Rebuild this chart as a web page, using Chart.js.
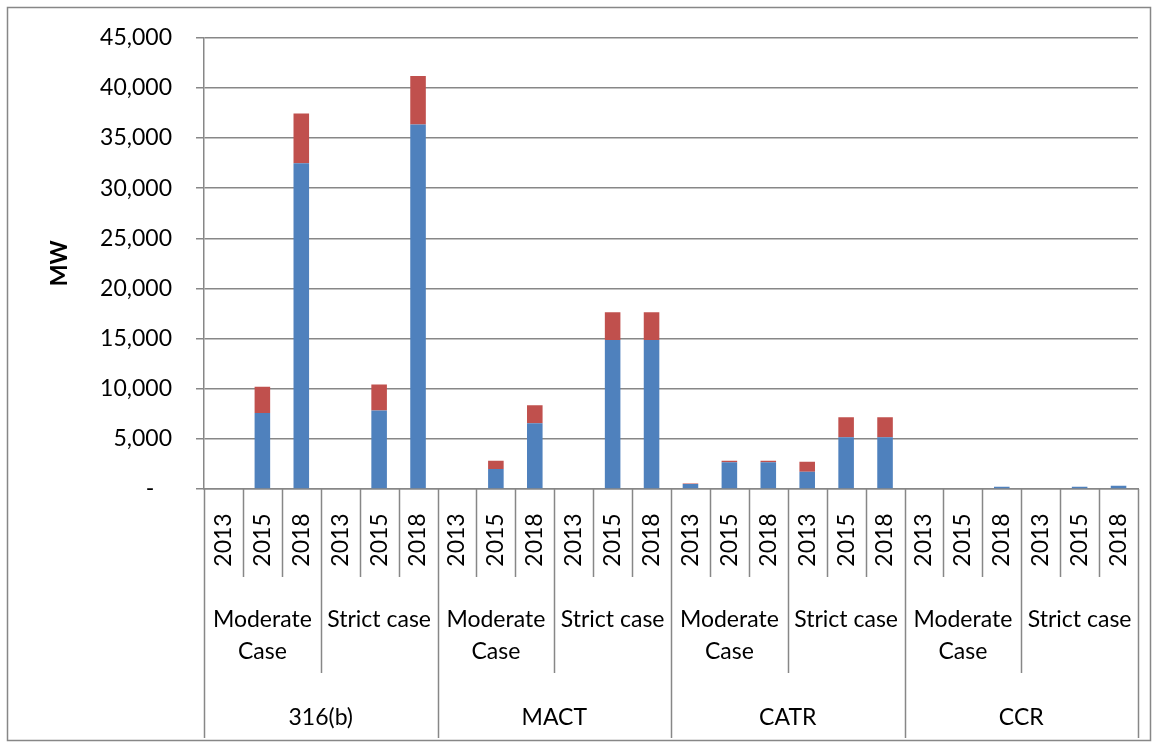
<!DOCTYPE html>
<html>
<head>
<meta charset="utf-8">
<script src="https://cdn.jsdelivr.net/npm/chart.js@4.4.1/dist/chart.umd.min.js"></script>
<style>
  html, body { margin: 0; padding: 0; background: #ffffff; }
  #wrap { width: 1158px; height: 748px; position: relative; }
</style>
</head>
<body>
<div id="wrap"><canvas id="chart" width="1158" height="748"></canvas></div>
<script>
// Category hierarchy: rule group → case → year
const groups = ['316(b)', 'MACT', 'CATR', 'CCR'];
const cases = [['Moderate', 'Case'], ['Strict case']];
const years = ['2013', '2015', '2018'];

// Capacity in MW, one value per (group, case, year), in that order
const seriesLower = [
  0, 7580, 32490,   0, 7830, 36350,
  0, 2000, 6560,    0, 14870, 14870,
  500, 2660, 2660,  1730, 5150, 5150,
  0, 80, 230,       0, 230, 330
];
const seriesUpper = [
  0, 2620, 4970,    0, 2600, 4840,
  0, 810, 1790,     0, 2750, 2750,
  60, 160, 160,     990, 2000, 2000,
  0, 0, 0,          0, 0, 0
];

const yTicksMax = 45000;
const yTicksStep = 5000;

const labels = [];
groups.forEach(() => cases.forEach(() => years.forEach(y => labels.push(y))));

const FONT = 'Lato, "Open Sans", sans-serif';
const AXIS_GRAY = '#878787';

// Draws the three-level category axis (years / cases / groups) with separators
const multiLevelAxis = {
  id: 'multiLevelAxis',
  afterDraw(chart) {
    const { ctx, chartArea, scales } = chart;
    const x = scales.x;
    const n = labels.length;
    const half = (x.getPixelForValue(1) - x.getPixelForValue(0)) / 2;
    const edge = i => (i < n ? x.getPixelForValue(i) - half : x.getPixelForValue(n - 1) + half);
    const base = chartArea.bottom;
    const yearBottom = base + 88;
    const caseBottom = base + 184;
    const groupBottom = base + 249;

    ctx.save();
    ctx.strokeStyle = AXIS_GRAY;
    ctx.lineWidth = 1.5;
    for (let i = 0; i <= n; i++) {
      let bottom = yearBottom;
      if (i % years.length === 0) bottom = caseBottom;
      if (i % (years.length * cases.length) === 0) bottom = groupBottom;
      const px = Math.round(edge(i)) + 0.5;
      ctx.beginPath();
      ctx.moveTo(px, base);
      ctx.lineTo(px, bottom);
      ctx.stroke();
    }

    ctx.fillStyle = '#000';
    ctx.font = '23px ' + FONT;
    ctx.textAlign = 'center';
    ctx.textBaseline = 'middle';

    // Year labels, rotated
    for (let i = 0; i < n; i++) {
      ctx.save();
      ctx.translate(x.getPixelForValue(i), base + 51);
      ctx.rotate(-Math.PI / 2);
      ctx.fillText(labels[i], 0, 0);
      ctx.restore();
    }

    // Case labels and group labels
    const perGroup = years.length * cases.length;
    groups.forEach((g, gi) => {
      cases.forEach((c, ci) => {
        const start = gi * perGroup + ci * years.length;
        const cx = (edge(start) + edge(start + years.length)) / 2;
        c.forEach((line, li) => ctx.fillText(line, cx, base + 131 + li * 32));
      });
      const gx = (edge(gi * perGroup) + edge((gi + 1) * perGroup)) / 2;
      ctx.fillText(g, gx, base + 229);
    });

    ctx.restore();
  },
  beforeDraw(chart) {
    const { ctx } = chart;
    ctx.save();
    ctx.fillStyle = '#fff';
    ctx.fillRect(0, 0, chart.width, chart.height);
    ctx.strokeStyle = AXIS_GRAY;
    ctx.lineWidth = 1.5;
    ctx.strokeRect(7.5, 7.5, chart.width - 15, chart.height - 15);
    ctx.restore();
  }
};

new Chart(document.getElementById('chart'), {
  type: 'bar',
  data: {
    labels,
    datasets: [
      {
        label: 'Series 1',
        data: seriesLower,
        backgroundColor: '#4F81BD',
        borderWidth: 0,
        barPercentage: 0.4,
        categoryPercentage: 1
      },
      {
        label: 'Series 2',
        data: seriesUpper,
        backgroundColor: '#C0504D',
        borderWidth: 0,
        barPercentage: 0.4,
        categoryPercentage: 1
      }
    ]
  },
  options: {
    responsive: false,
    animation: false,
    devicePixelRatio: 1,
    layout: { padding: { left: 42, right: 20, top: 37, bottom: 259 } },
    plugins: {
      legend: { display: false },
      tooltip: { enabled: false }
    },
    scales: {
      x: {
        stacked: true,
        ticks: { display: false },
        grid: { drawOnChartArea: false, drawTicks: false },
        border: { display: true, color: AXIS_GRAY, width: 1.5 }
      },
      y: {
        stacked: true,
        min: 0,
        max: yTicksMax,
        afterFit(scale) { scale.width = 162; },
        ticks: {
          stepSize: yTicksStep,
          padding: 24,
          color: '#000',
          font: { family: FONT, size: 23 },
          callback: v => (v === 0 ? '-   ' : v.toLocaleString('en-US'))
        },
        grid: { color: AXIS_GRAY, lineWidth: 1.5, tickLength: 8 },
        border: { display: true, color: AXIS_GRAY, width: 1.5 },
        title: {
          display: true,
          text: 'MW',
          color: '#000',
          font: { family: FONT, size: 23, weight: 'bold' }
        }
      }
    }
  },
  plugins: [multiLevelAxis]
});
</script>
</body>
</html>
